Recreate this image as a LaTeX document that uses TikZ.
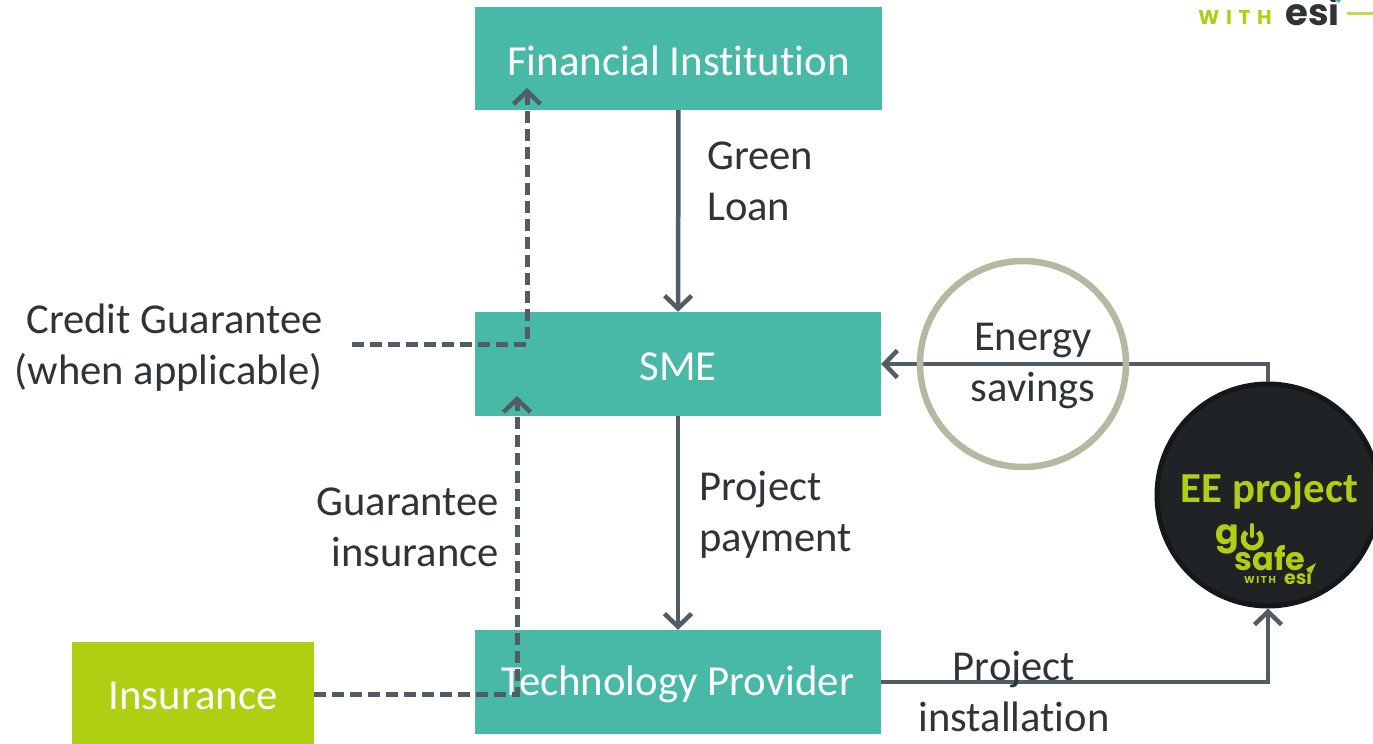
\documentclass[tikz,border=0pt]{standalone}
\usepackage{fontspec}
\setmainfont{Carlito}[Ligatures=CommonOff]
\newfontfamily\logofont{Poppins}
\usetikzlibrary{arrows.meta}
\definecolor{teal1}{HTML}{48B8A7}
\definecolor{lime1}{HTML}{AFCF12}
\definecolor{line1}{HTML}{515C66}
\definecolor{tan1}{HTML}{B8B8A2}
\definecolor{dark1}{HTML}{1F2326}
\definecolor{dark2}{HTML}{15181A}
\definecolor{txt1}{HTML}{2E3438}
\newcommand{\lowtxt}[1]{\raisebox{-2.5pt}[\height][\depth]{#1}}
\tikzset{
 x=1pt,y=-1pt,
 tealbox/.style={fill=teal1,minimum width=406pt,minimum height=104pt,inner sep=0pt,text=white,font=\fontsize{42.8}{43}\selectfont},
 limebox/.style={fill=lime1,minimum width=242pt,minimum height=102pt,inner sep=0pt,text=white,font=\fontsize{42.8}{43}\selectfont},
 lab/.style={text=txt1,font=\fontsize{42.6}{51}\selectfont,inner sep=0pt},
 conn/.style={draw=line1,line width=4.5pt,-{Straight Barb[length=13pt,width=27pt,line width=4.5pt]}},
 dconn/.style={conn,line width=5pt,dash pattern=on 12pt off 6pt},
}
\begin{document}
\begin{tikzpicture}
\useasboundingbox (0,0) rectangle (1373,744);
\clip (0,0) rectangle (1373,744);
% boxes
\node[tealbox,minimum height=103pt,minimum width=407pt] (fi) at (678.5,58.5) {\lowtxt{Financial Institution}};
\node[tealbox] (sme) at (678,364) {\lowtxt{SME}};
\node[tealbox] (tp) at (678,682) {\lowtxt{Technology Provider}};
\node[limebox] (ins) at (193,693) {\lowtxt{Insurance}};
% circles
\node[circle,draw=dark2,fill=dark1,line width=5pt,minimum size=222pt,inner sep=0pt] (ee) at (1268,495) {};
\node[lab,text=lime1,font=\bfseries\fontsize{42.8}{43}\selectfont] (eet) at (1269.5,491) {EE project};
% small logo
\node[inner sep=0pt,text=lime1,font=\logofont\bfseries\fontsize{35}{35}\selectfont] (lg) at (1227,539) {g};
\draw[lime1,line width=5pt] (1258,532) arc[start angle=-50,end angle=230,radius=9] ;
\draw[lime1,line width=4pt,line cap=round] (1252,525) -- (1252,536);
\node[inner sep=0pt,text=lime1,font=\logofont\bfseries\fontsize{32}{32}\selectfont] (ls) at (1270,558) {safe};
\node[inner sep=0pt,text=lime1,font=\logofont\bfseries\fontsize{10}{10}\selectfont] (lw) at (1260,580) {W\,I\,T\,H};
\node[inner sep=0pt,text=lime1,font=\logofont\bfseries\fontsize{19}{19}\selectfont] (le) at (1298,577) {esi};
\fill[lime1] (1306,569) -- (1316,563) -- (1311,574) -- cycle;
% top-right logo
\node[inner sep=0pt,text=lime1,font=\logofont\bfseries\fontsize{20}{20}\selectfont] (tw) at (1235,17) {W\,\,I\,\,T\,\,H};
\node[inner sep=0pt,text=txt1,font=\logofont\bfseries\fontsize{37}{37}\selectfont] (te) at (1312.5,11) {esi};
\fill[teal1] (1335,0) -- (1341,0) -- (1339,3) -- cycle;
\coordinate (ta) at (1347,13.5);
\coordinate (tb) at (1373,13.5);
\draw[lime1!75,line width=3.5pt] (ta) -- (tb);
% Energy savings
\coordinate (ej) at (1268,364);
\draw[conn] (ee.north) -- (ej) -- (sme.east);
\node[circle,draw=tan1,line width=6.5pt,minimum size=206pt,inner sep=0pt] (es) at (1023,364) {};
\node[lab,align=center] (est) at (1033,366) {Energy\\savings};
% connectors
\draw[conn] (fi) -- (sme);
\draw[conn] (sme) -- (tp);
\coordinate (pj) at (1268,682);
\draw[conn] (tp.east) -- (pj) -- (ee.south);
\coordinate (cgs) at (352,344);
\coordinate (cgj) at (527,344);
\coordinate (cge) at (527,88);
\draw[dconn] (cgs) -- (cgj) -- (cge);
\coordinate (gj) at (517,694);
\coordinate (ge) at (517,396);
\draw[dconn] (ins.east |- gj) -- (gj) -- (ge);
% labels
\node[lab,align=left,anchor=west] (gl) at (707,181.5) {Green\\Loan};
\node[lab,align=left,anchor=west] (pp) at (699,514.5) {Project\\payment};
\node[lab,align=right,anchor=east] (cg) at (323,348) {Credit Guarantee\\(when applicable)};
\node[lab,align=right,anchor=east] (gi) at (499,527.5) {Guarantee\\insurance};
\node[lab,align=center] (pi) at (1014,691.5) {Project\\installation};
\end{tikzpicture}
\end{document}
